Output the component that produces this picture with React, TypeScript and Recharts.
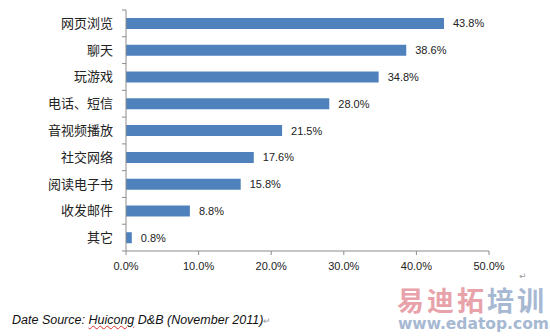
import { Bar, BarChart, LabelList, XAxis, YAxis } from 'recharts';

const activities = ['网页浏览', '聊天', '玩游戏', '电话、短信', '音视频播放', '社交网络', '阅读电子书', '收发邮件', '其它'];
const shares = [43.8, 38.6, 34.8, 28.0, 21.5, 17.6, 15.8, 8.8, 0.8];
const xTicks = [0, 10, 20, 30, 40, 50];

const data = activities.map((name, i) => ({ name, share: shares[i] }));

const PLOT_TOP = 10;
const PLOT_HEIGHT = 241;
const HALF_BAND = PLOT_HEIGHT / activities.length / 2;

function CategoryTick(props: any) {
  const { x, y, payload, index } = props;
  const axisX = x + 13;
  return (
    <g>
      <line x1={axisX - 4} x2={axisX} y1={y - HALF_BAND} y2={y - HALF_BAND} stroke='#8c8c8c' />
      {index === activities.length - 1 && (
        <line x1={axisX - 4} x2={axisX} y1={y + HALF_BAND} y2={y + HALF_BAND} stroke='#8c8c8c' />
      )}
      <text
        x={x}
        y={y}
        dy='0.35em'
        textAnchor='end'
        fill='#222'
        fontSize={13}
        fontFamily='"Noto Sans CJK SC", sans-serif'
      >
        {payload.value}
      </text>
    </g>
  );
}

export default function App() {
  return (
    <div style={{ position: 'absolute', left: 0, top: 0, width: 550, height: 336, background: '#fff' }}>
      <BarChart
        width={550}
        height={300}
        layout='vertical'
        data={data}
        margin={{ top: PLOT_TOP, right: 61, bottom: 300 - PLOT_TOP - PLOT_HEIGHT - 30, left: 0 }}
        barSize={11}
      >
        <XAxis
          type='number'
          dataKey='share'
          domain={[0, 50]}
          ticks={xTicks}
          height={30}
          tickSize={4}
          tickMargin={7}
          stroke='#8c8c8c'
          tick={{ fill: '#222', fontSize: 11, fontFamily: '"Liberation Sans", sans-serif' }}
          tickFormatter={(v: number) => `${v.toFixed(1)}%`}
        />
        <YAxis
          type='category'
          dataKey='name'
          width={126}
          tickLine={false}
          tickMargin={9}
          tickSize={4}
          stroke='#8c8c8c'
          tick={<CategoryTick />}
          interval={0}
        />
        <Bar dataKey='share' fill='#4f81bd' isAnimationActive={false}>
          <LabelList
            dataKey='share'
            position='right'
            offset={9}
            fill='#222'
            fontSize={11}
            fontFamily='"Liberation Sans", sans-serif'
            formatter={(v: any) => `${Number(v).toFixed(1)}%`}
          />
        </Bar>
      </BarChart>
      <div
        style={{
          position: 'absolute',
          left: 519,
          top: 272,
          fontSize: 9,
          lineHeight: 1,
          color: '#999',
          fontFamily: '"DejaVu Sans", sans-serif',
        }}
      >
        ↵
      </div>
      <div
        style={{
          position: 'absolute',
          left: 12,
          top: 313,
          fontSize: 12.5,
          fontStyle: 'italic',
          color: '#111',
          fontFamily: '"Liberation Sans", sans-serif',
          whiteSpace: 'nowrap',
        }}
      >
        Date Source:{' '}
        <span style={{ textDecoration: 'underline wavy #e03030', textDecorationThickness: 1 }}>Huicong</span> D&amp;B
        (November 2011)
        <span style={{ fontStyle: 'normal', fontSize: 9, color: '#999' }}>↵</span>
      </div>
      <div
        style={{
          position: 'absolute',
          left: 397,
          top: 286,
          fontSize: 27,
          fontWeight: 'bold',
          letterSpacing: 3,
          fontFamily: '"Noto Sans CJK SC", sans-serif',
          whiteSpace: 'nowrap',
          lineHeight: 1,
        }}
      >
        <span style={{ color: '#e8a2aa' }}>易迪拓</span>
        <span style={{ color: '#a6b8d2' }}>培训</span>
      </div>
      <div
        style={{
          position: 'absolute',
          left: 398,
          top: 317,
          fontSize: 15.5,
          fontWeight: 'bold',
          color: '#a6b8d2',
          fontFamily: '"DejaVu Sans", sans-serif',
          whiteSpace: 'nowrap',
          lineHeight: 1,
        }}
      >
        www.edatop.com
      </div>
    </div>
  );
}
